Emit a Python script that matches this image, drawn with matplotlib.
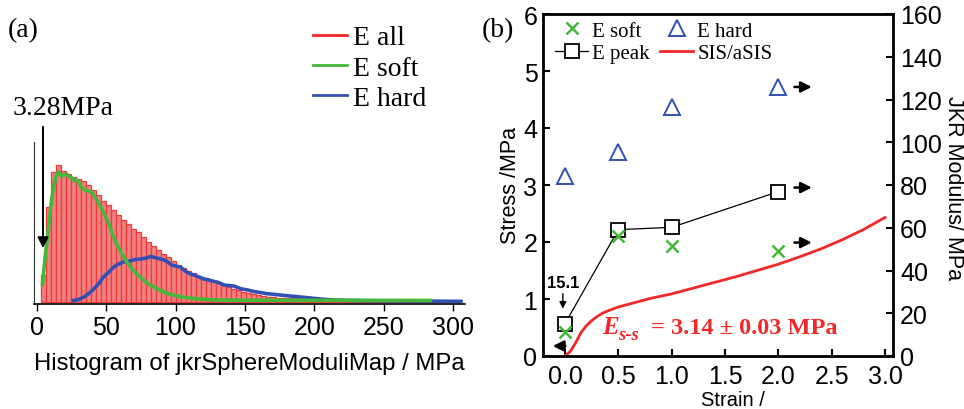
import numpy as np
import matplotlib
matplotlib.use("Agg")
import matplotlib.pyplot as plt
from matplotlib.lines import Line2D

SANS = "Liberation Sans"
SERIF = "Liberation Serif"
plt.rcParams["font.family"] = SANS

# ---- (a) histogram of JKR moduli ----
bin_start = 3.28
bin_width = 3.6
hist_counts = [27, 95, 130, 137, 131, 128, 125, 123, 121, 117,
               112, 107, 101, 97, 92, 87, 82, 78, 73, 70,
               65, 60, 56, 52, 48, 45, 41, 37, 34, 31,
               29, 26, 24, 22.5, 21, 19, 17, 15, 13, 12,
               10.5, 9, 8, 7, 6, 5.5, 5, 4.5, 4.2, 4,
               4, 3.8, 3.5, 3.5, 3, 3, 3, 2.5, 2.5, 2.5,
               2, 2, 2, 2, 2, 1.5, 1.5, 1.5, 1.5, 1.5,
               1.5, 1.2, 1.2, 1.2, 1, 1, 1, 1, 1, 1]

soft_x = [4, 6, 8, 10, 12, 14, 15.5, 17.5, 19.5, 21.5, 23.5, 25.5, 27, 28.6,
          30.5, 32, 34.5, 37, 39.5, 41.5, 44, 46.5, 49, 52, 55, 58, 61, 64,
          67, 70, 73.5, 77, 80, 83, 87, 91, 95, 100, 105, 110, 115, 122, 130,
          150, 200, 250, 285]
soft_y = [16, 45, 68, 95, 115, 126, 130, 126, 127, 128, 125, 124, 121.5, 122.5,
          119, 115, 112, 111, 110, 106, 100, 94, 87, 78, 66, 57, 49, 42,
          36, 31, 26, 22, 18.5, 16, 13, 10.5, 8, 6.5, 5, 4, 3.2, 2.5, 2,
          1.8, 1.7, 1.6, 1.6]

hard_x = [25, 30, 34, 38, 41, 45, 48, 52, 55.5, 59, 62.5, 67, 71, 75, 79, 82,
          85, 89, 92, 94, 97, 100, 103.5, 107, 110, 113, 117, 120.5, 124, 128,
          131, 135, 138, 142, 147, 152, 156, 161, 166, 172, 178, 184, 190, 196,
          202, 208, 214, 225, 238, 260, 285, 307]
hard_y = [1, 2.5, 5, 9, 13, 19, 25, 30, 35, 38, 40, 41, 42.5, 43, 44, 45.5,
          44.5, 43, 42, 40.5, 37, 36, 35, 31, 28.5, 27, 25, 23, 22, 20.5,
          19.5, 17, 16.5, 16, 13.3, 12, 10.6, 9.5, 8.3, 7.5, 6.6, 5.8, 5, 4.2,
          3.3, 2.6, 2, 1.6, 1.3, 1.1, 0.9, 0.6]

hist_ticks = [0, 50, 100, 150, 200, 250, 300]

# ---- (b) strain dependence ----
strain_pts = [0.0, 0.5, 1.0, 2.0]
e_soft = [11.1, 56.3, 51.6, 49.3]
e_hard = [84.4, 95.6, 116.4, 125.7]
e_peak = [15.1, 59.1, 60.2, 76.9]

ss_strain = [0, 0.05, 0.1, 0.15, 0.2, 0.25, 0.3, 0.35, 0.4, 0.5, 0.6, 0.7,
             0.8, 0.9, 1.0, 1.2, 1.4, 1.6, 1.8, 2.0, 2.2, 2.4, 2.6, 2.8, 3.0]
ss_stress = [0, 0.08, 0.23, 0.41, 0.53, 0.62, 0.69, 0.75, 0.79, 0.86, 0.91,
             0.96, 1.01, 1.05, 1.09, 1.19, 1.29, 1.39, 1.50, 1.61, 1.74, 1.88,
             2.04, 2.22, 2.43]

RED = "#f02828"
GREEN = "#43b83a"
BLUE = "#3250b4"

W, H = 964, 410
fig = plt.figure(figsize=(W / 100, H / 100), dpi=100)


def fx(px):
    return px / W


def fy(py):
    return 1 - py / H


# ================= panel (a) =================
axa = fig.add_axes([fx(34), fy(305), fx(465 - 34), (305 - 143) / H])
edges = bin_start + bin_width * np.arange(len(hist_counts))
axa.bar(edges, hist_counts, width=bin_width, align="edge",
        color="#f08080", edgecolor="#f03a3a", linewidth=0.9)
axa.plot(hard_x, hard_y, color=BLUE, lw=2.6, solid_capstyle="butt")
axa.plot(soft_x, soft_y, color=GREEN, lw=2.6, solid_capstyle="butt")
axa.set_xlim(-2, 308.6)
axa.set_ylim(-2, 160)
axa.set_xticks(hist_ticks)
axa.set_yticks([])
axa.tick_params(axis="x", direction="out", length=5, width=1, labelsize=18, pad=3)
for s in ["top", "right"]:
    axa.spines[s].set_visible(False)
axa.spines["left"].set_color("#333333")
axa.spines["bottom"].set_linewidth(1.2)
axa.set_xlabel("Histogram of jkrSphereModuliMap / MPa", fontsize=17.2, labelpad=9)

axa.annotate("", xy=(4.5, 51), xytext=(4.5, 178),
             arrowprops=dict(arrowstyle="-|>", color="black", lw=1.4,
                             mutation_scale=16), annotation_clip=False)
fig.text(fx(13), fy(115), "3.28MPa", family=SERIF, fontsize=20, va="baseline")
fig.text(fx(8), fy(37), "(a)", family=SERIF, fontsize=20, va="baseline")

leg_a = [Line2D([], [], color=RED, lw=2), Line2D([], [], color=GREEN, lw=2),
         Line2D([], [], color=BLUE, lw=2)]
fig.legend(leg_a, ["E all", "E soft", "E hard"], loc="upper left",
           bbox_to_anchor=(fx(313), fy(26)), frameon=False,
           prop={"family": SERIF, "size": 20}, handlelength=1.22,
           handletextpad=0.22, labelspacing=0.17, borderpad=0, borderaxespad=0)

# ================= panel (b) =================
axb = fig.add_axes([fx(543), fy(357), fx(893 - 543), (357 - 15) / H])
axb.plot(ss_strain, ss_stress, color=RED, lw=2, label="SIS/aSIS")
axb.set_xlim(-0.206, 3.075)
axb.set_ylim(0, 6)
axb.set_xticks(np.arange(0, 3.01, 0.5))
axb.set_xticklabels(["%.1f" % v for v in np.arange(0, 3.01, 0.5)])
axb.set_yticks(range(7))
axb.tick_params(direction="in", length=5, width=1.5, labelsize=18)
axb.tick_params(axis="x", pad=6)
axb.tick_params(axis="y", pad=4)
for s in axb.spines.values():
    s.set_linewidth(2)
axb.set_ylabel("Stress /MPa", fontsize=15.5, labelpad=2)
fig.text(fx(733), fy(410), "Strain /", fontsize=14.5, ha="center", va="bottom")

ax2 = axb.twinx()
ax2.set_ylim(0, 160)
ax2.set_yticks(range(0, 161, 20))
ax2.tick_params(direction="in", length=5, width=1.5, labelsize=18, pad=5)
fig.text(fx(953), fy(188), "JKR Modulus/ MPa", fontsize=15.5, rotation=270,
         ha="center", va="center")
h_hard, = ax2.plot(strain_pts, e_hard, ls="none", marker="^", ms=11, mew=1.4,
                   mfc="none", color=BLUE, label="E hard")
h_peak, = ax2.plot(strain_pts, e_peak, color="black", lw=0.9, marker="s", ms=10,
                   mew=1.3, mfc="white", label="E peak")
h_soft, = ax2.plot(strain_pts, e_soft, ls="none", marker="x", ms=9, mew=1.8,
                   color=GREEN, label="E soft")
h_sis = Line2D([], [], color=RED, lw=2)

arrow = dict(arrowstyle="-|>", color="black", lw=1.8, mutation_scale=16)
axb.annotate("", xy=(-0.14, 0.175), xytext=(0.03, 0.175), arrowprops=arrow,
             annotation_clip=False)
for yv in [4.72, 2.955, 1.99]:
    axb.annotate("", xy=(2.34, yv), xytext=(2.125, yv), arrowprops=arrow)
axb.annotate("", xy=(-0.02, 0.78), xytext=(-0.02, 1.14),
             arrowprops=dict(arrowstyle="-|>", color="black", lw=1.0,
                             mutation_scale=10))
axb.text(-0.02, 1.21, "15.1", fontsize=12, fontweight="bold", ha="center",
         va="baseline")

axb.text(0.345, 0.41, "E", color=RED, family=SERIF, fontsize=18,
         fontweight="bold", style="italic", va="baseline")
axb.text(0.5, 0.29, "s-s", color=RED, family=SERIF, fontsize=13.5,
         fontweight="bold", style="italic", va="baseline")
axb.text(0.81, 0.41, "= 3.14 \u00b1 0.03 MPa", color=RED, family=SERIF,
         fontsize=17.5, fontweight="bold", va="baseline")

ax2.legend([h_soft, h_peak, h_hard, h_sis],
           ["E soft", "E peak", "E hard", "SIS/aSIS"], ncol=2,
           loc="upper left", bbox_to_anchor=(fx(555), fy(22)),
           bbox_transform=fig.transFigure, frameon=False,
           prop={"family": SERIF, "size": 15}, handlelength=1.6,
           handletextpad=0.2, columnspacing=0.47, labelspacing=0.15,
           borderpad=0, borderaxespad=0)

fig.text(fx(482), fy(37), "(b)", family=SERIF, fontsize=20, va="baseline")

fig.savefig("out.png", dpi=100)
